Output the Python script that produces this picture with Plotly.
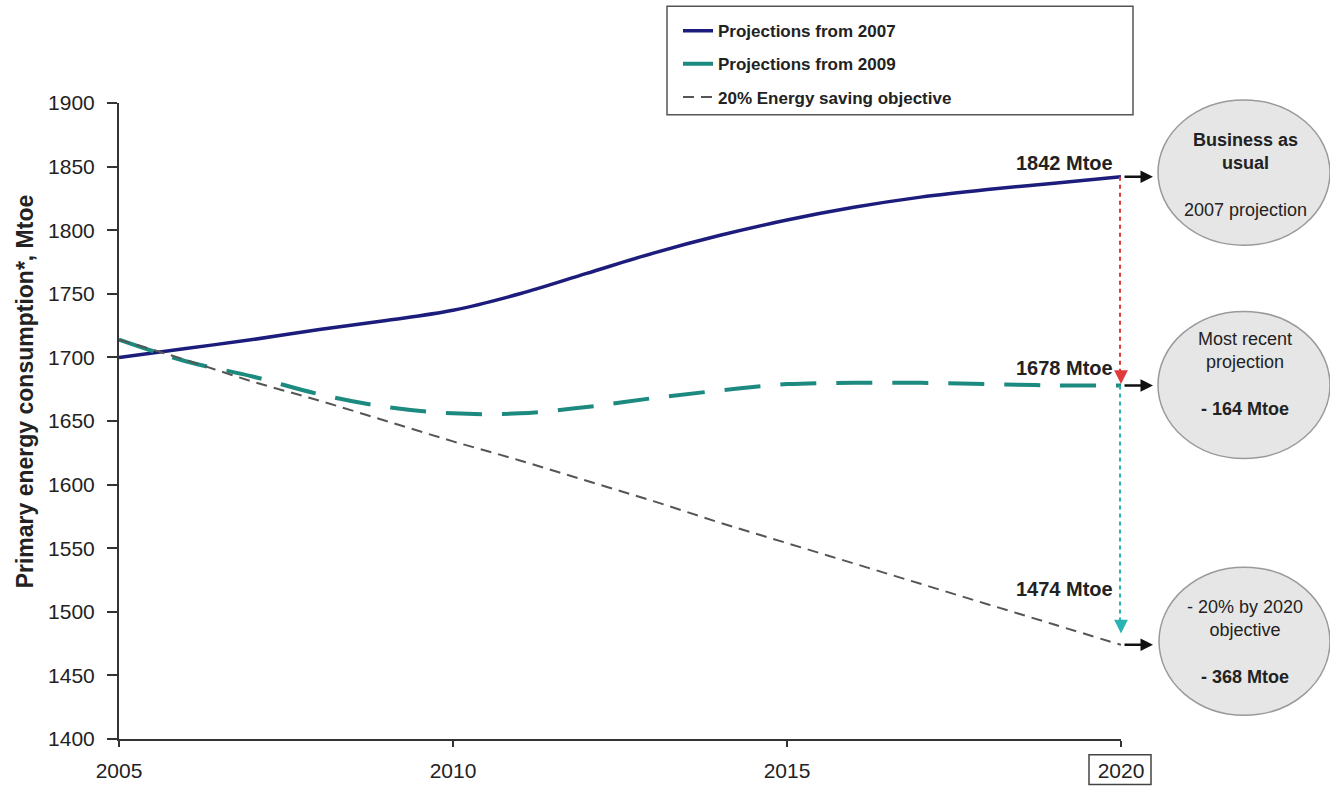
import plotly.graph_objects as go

# ---------------- data ----------------
years = list(range(2005, 2021))
proj_2007 = [1700, 1707, 1714, 1722, 1729, 1737, 1750, 1766, 1782, 1796, 1808, 1818, 1826, 1832, 1837, 1842]
proj_2009 = [1714, 1697, 1685, 1671, 1661, 1656, 1656, 1661, 1668, 1674, 1679, 1680, 1680, 1679, 1678, 1678]
objective = [1714, 1698, 1681, 1666, 1650, 1634, 1619, 1603, 1587, 1570, 1554, 1538, 1522, 1506, 1490, 1474]
series_names = ["Projections from 2007", "Projections from 2009", "20% Energy saving objective"]
x_ticks = [2005, 2010, 2015, 2020]
y_ticks = list(range(1400, 1901, 50))
end_labels = ["1842 Mtoe", "1678 Mtoe", "1474 Mtoe"]
end_values = [1842, 1678, 1474]
bubble_texts = [
    "<b>Business as<br>usual</b><br><br>2007 projection",
    "Most recent<br>projection<br><br><b>- 164 Mtoe</b>",
    "- 20% by 2020<br>objective<br><br><b>- 368 Mtoe</b>",
]

W, H = 1330, 794
L, R, T, B = 119, 1121, 103, 747
FONT = "Arial, Liberation Sans, sans-serif"


def px(x):
    return (x - L) / (R - L)


def py(y):
    return (B - y) / (B - T)


NAVY = "#1c1c7c"
TEAL = "#1d8a80"
GRAY = "#555555"

fig = go.Figure()
fig.add_trace(go.Scatter(x=years, y=proj_2007, mode="lines", name="<b>" + series_names[0] + "</b>",
                         legendgroup="a", line=dict(color=NAVY, width=3.5, shape="spline", smoothing=1)))
fig.add_trace(go.Scatter(x=years, y=proj_2009, mode="lines", name="<b>" + series_names[1] + "</b>",
                         legendgroup="b", line=dict(color=TEAL, width=4, dash="36px,20px", shape="spline", smoothing=1)))
fig.add_trace(go.Scatter(x=years, y=objective, mode="lines", name="<b>" + series_names[2] + "</b>",
                         legendgroup="c", line=dict(color=GRAY, width=2, dash="11px,7px", shape="spline", smoothing=1)))

shapes = []
annotations = []

# legend border box
shapes.append(dict(type="rect", xref="paper", yref="paper", x0=px(667), x1=px(1133), y0=py(115), y1=py(5),
                   line=dict(color="#555555", width=1.5), fillcolor="rgba(0,0,0,0)"))
# box around 2020 tick label
shapes.append(dict(type="rect", xref="paper", yref="paper", x0=px(1089), x1=px(1151), y0=py(793), y1=py(763),
                   line=dict(color="#444444", width=1.5), fillcolor="rgba(0,0,0,0)"))

# vertical dotted connectors
shapes.append(dict(type="line", xref="x", yref="y", x0=2020, x1=2020, y0=end_values[0], y1=end_values[1] + 6,
                   line=dict(color="#e03a3a", width=4, dash="dot")))
shapes.append(dict(type="line", xref="x", yref="y", x0=2020, x1=2020, y0=end_values[1], y1=end_values[2] + 12,
                   line=dict(color="#2ab3b3", width=4, dash="dot")))
annotations.append(dict(x=2020, y=end_values[1] + 1, ax=2020, ay=end_values[1] + 12, xref="x", yref="y",
                        axref="x", ayref="y", showarrow=True, arrowhead=2, arrowsize=1.1, arrowwidth=2.5,
                        arrowcolor="#e03a3a", text=""))
annotations.append(dict(x=2020, y=end_values[2] + 9, ax=2020, ay=end_values[2] + 20, xref="x", yref="y",
                        axref="x", ayref="y", showarrow=True, arrowhead=2, arrowsize=1.1, arrowwidth=2.5,
                        arrowcolor="#2ab3b3", text=""))

# end-value labels and black arrows
label_y_px = [164, 371, 595]
for lab, v, ly in zip(end_labels, end_values, label_y_px):
    annotations.append(dict(xref="paper", yref="paper", x=px(1064), y=py(ly), text="<b>" + lab + "</b>",
                            showarrow=False, font=dict(family=FONT, size=20, color="#222222"),
                            xanchor="center", yanchor="middle"))
    annotations.append(dict(xref="paper", yref="y", x=px(1153), y=v, ax=-30, ay=0, axref="pixel", ayref="pixel",
                            showarrow=True, arrowhead=2, arrowsize=1, arrowwidth=2.5, arrowcolor="#111111",
                            text=""))

# bubbles
bubble_boxes = [(1158, 1330, 100, 247), (1158, 1330, 314, 463), (1159, 1330, 573, 723)]
bubble_text_y = [176, 377, 649]
for (x0, x1, y0, y1), txt, ty in zip(bubble_boxes, bubble_texts, bubble_text_y):
    shapes.append(dict(type="circle", xref="paper", yref="paper", x0=px(x0), x1=px(x1), y0=py(y1), y1=py(y0),
                       fillcolor="#e6e6e6", line=dict(color="#9a9a9a", width=1.5), layer="below"))
    annotations.append(dict(xref="paper", yref="paper", x=px(1245), y=py(ty), text=txt, showarrow=False,
                            font=dict(family=FONT, size=18, color="#222222"), align="center",
                            xanchor="center", yanchor="middle"))

# y-axis title
annotations.append(dict(xref="paper", yref="paper", x=px(25), y=py(395), text="<b>Primary energy consumption*, Mtoe</b>",
                        textangle=-90, showarrow=False, font=dict(family=FONT, size=23, color="#222222"),
                        xanchor="center", yanchor="middle"))

fig.update_layout(
    width=W, height=H, autosize=False,
    margin=dict(l=L, r=W - R, t=T, b=H - B, pad=0),
    paper_bgcolor="white", plot_bgcolor="white",
    font=dict(family=FONT, color="#222222"),
    showlegend=True,
    legend=dict(x=px(678), y=py(12), xanchor="left", yanchor="top", bgcolor="rgba(0,0,0,0)",
                font=dict(family=FONT, size=17, color="#222222"), tracegroupgap=8,
                itemwidth=30, traceorder="grouped"),
    xaxis=dict(range=[2005, 2020], tickvals=x_ticks, ticktext=[str(t) for t in x_ticks],
               showgrid=False, zeroline=False, showline=True, linecolor="#333333", linewidth=2,
               ticks="outside", ticklen=6, tickwidth=1.5, tickcolor="#333333",
               tickfont=dict(family=FONT, size=21, color="#222222"), ticklabelstandoff=6),
    yaxis=dict(range=[1400, 1900], tickvals=y_ticks, showgrid=False, zeroline=False, showline=True,
               linecolor="#333333", linewidth=2, ticks="outside", ticklen=10, tickwidth=1.5,
               tickcolor="#333333", tickfont=dict(family=FONT, size=21, color="#222222"),
               ticklabelstandoff=8),
    shapes=shapes,
    annotations=annotations,
)

fig.write_html("out.html")
